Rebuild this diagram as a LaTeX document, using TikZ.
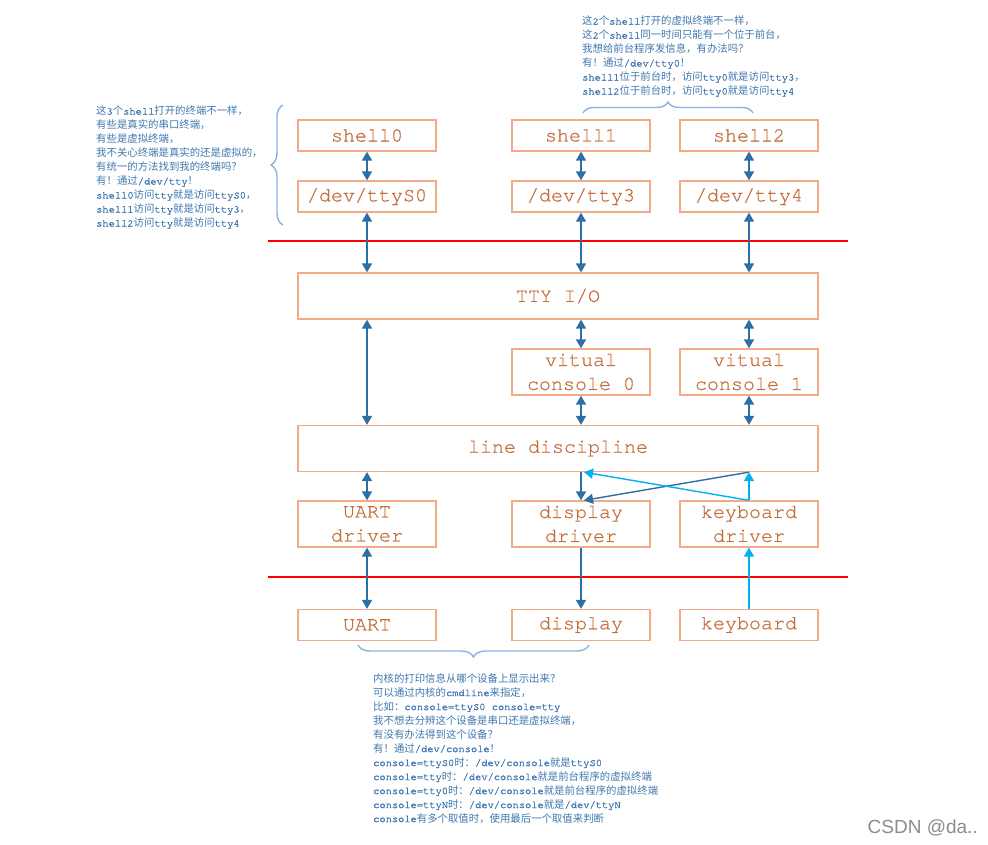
\documentclass[tikz,border=0pt]{standalone}
\usepackage{fontspec}
\usetikzlibrary{arrows.meta,decorations.pathreplacing,calc}
\newfontfamily\monofont[FakeBold=0.6]{TeX Gyre Cursor}
\newfontfamily\annmono[FakeBold=1.6]{TeX Gyre Cursor}
\newfontfamily\cjkfont{Noto Sans CJK SC}
\newfontfamily\wmfont{Liberation Sans}
\definecolor{boxc}{RGB}{244,170,135}
\definecolor{txtc}{RGB}{196,110,58}
\definecolor{annc}{RGB}{64,120,176}
\definecolor{bracec}{RGB}{140,180,226}
\definecolor{arrc}{RGB}{44,110,165}
\definecolor{lightarr}{RGB}{0,176,240}
\definecolor{wmc}{RGB}{140,140,140}
\makeatletter
\newXeTeXintercharclass\mycjkclass
\count@="4E00
\loop \XeTeXcharclass\count@=\mycjkclass \ifnum\count@<"9FFF \advance\count@ 1 \repeat
\count@="3000
\loop \XeTeXcharclass\count@=\mycjkclass \ifnum\count@<"303F \advance\count@ 1 \repeat
\count@="FF00
\loop \XeTeXcharclass\count@=\mycjkclass \ifnum\count@<"FFEF \advance\count@ 1 \repeat
\count@="20
\loop \XeTeXcharclass\count@=0 \ifnum\count@<"7E \advance\count@ 1 \repeat
\makeatother
\def\tolatin{}
\XeTeXinterchartoks 0 \mycjkclass = {\cjkfont}
\XeTeXinterchartoks 4095 \mycjkclass = {\cjkfont}
\XeTeXinterchartoks \mycjkclass 0 = {\tolatin}
\XeTeXinterchartoks 4095 0 = {\tolatin}
\XeTeXinterchartokenstate=1
\begin{document}
\begin{tikzpicture}[x=1pt,y=-1pt,
  box/.style={draw=boxc, line width=1.3pt, text=txtc, font={\fontsize{20}{24}\monofont},
    minimum width=138pt, minimum height=31pt, inner sep=0pt, align=center},
  tall/.style={box, minimum height=46pt},
  wide/.style={box, minimum width=520pt, minimum height=46pt},
  dbl/.style={arrc, line width=1.4pt, {Triangle[width=10pt,length=9pt]}-{Triangle[width=10pt,length=9pt]}},
  one/.style={arrc, line width=1.4pt, -{Triangle[width=10pt,length=9pt]}},
  lone/.style={lightarr, line width=1.4pt, -{Triangle[width=10pt,length=9pt]}},
  sepline/.style={red, line width=1.3pt},
  ann/.style={anchor=north west, align=left, inner sep=0pt, text=annc,
    font={\fontsize{10.4}{14}\annmono\def\tolatin{\annmono}}},
  brc/.style={bracec, line width=1.4pt, decorate, decoration={brace, amplitude=12pt}}
]
\fill[white] (0,0) rectangle (988,844);
\useasboundingbox (0,0) rectangle (988,844);

% boxes
\node[box] (sh0) at (367,135.5) {shell0};
\node[box] (sh1) at (581,135.5) {shell1};
\node[box] (sh2) at (749,135.5) {shell2};
\node[box] (t0) at (367,196.5) {/dev/ttyS0};
\node[box] (t3) at (581,196.5) {/dev/tty3};
\node[box] (t4) at (749,196.5) {/dev/tty4};
\node[wide] (io) at (558,296) {TTY I/O};
\node[tall] (vc0) at (581,372) {vitual\\console 0};
\node[tall] (vc1) at (749,372) {vitual\\console 1};
\node[wide] (ld) at (558,448.5) {line discipline};
\node[tall] (ud) at (367,524) {UART\\driver};
\node[tall] (dd) at (581,524) {display\\driver};
\node[tall] (kd) at (749,524) {keyboard\\driver};
\node[box] (ua) at (367,625) {UART};
\node[box] (di) at (581,625) {display};
\node[box] (kb) at (749,625) {keyboard};

% separators
\coordinate (r1a) at (268,241); \coordinate (r1b) at (848,241);
\coordinate (r2a) at (268,577); \coordinate (r2b) at (848,577);
\draw[sepline] (r1a) -- (r1b);
\draw[sepline] (r2a) -- (r2b);

% arrows
\draw[dbl] (sh0.south) -- (t0.north);
\draw[dbl] (sh1.south) -- (t3.north);
\draw[dbl] (sh2.south) -- (t4.north);
\draw[dbl] (t0.south) -- (io.north -| t0);
\draw[dbl] (t3.south) -- (io.north -| t3);
\draw[dbl] (t4.south) -- (io.north -| t4);
\draw[dbl] (io.south -| t0) -- (ld.north -| t0);
\draw[dbl] (io.south -| vc0) -- (vc0.north);
\draw[dbl] (io.south -| vc1) -- (vc1.north);
\draw[dbl] (vc0.south) -- (ld.north -| vc0);
\draw[dbl] (vc1.south) -- (ld.north -| vc1);
\draw[dbl] (ld.south -| ud) -- (ud.north);
\draw[dbl] (ud.south) -- (ua.north);
\draw[one] (ld.south -| dd) -- (dd.north);
\draw[one] (ld.south -| kd) -- ($(dd.north)+(3,0)$);
\draw[lone] (kd.north) -- (ld.south -| kd);
\draw[lone] (kd.north) -- ($(ld.south -| dd)+(3,0)$);
\draw[one] (dd.south) -- (di.north);
\draw[lone] (kb.north) -- (kd.south);

% braces
\coordinate (b1a) at (283,225); \coordinate (b1b) at (283,105);
\coordinate (b2a) at (583,113); \coordinate (b2b) at (753,113);
\coordinate (b3a) at (589,645); \coordinate (b3b) at (358,645);
\draw[brc] (b1a) -- (b1b);
\draw[brc, decoration={brace, amplitude=11pt}] (b2a) -- (b2b);
\draw[brc] (b3a) -- (b3b);

% annotations
\node[ann] (a1) at (96,105.5) {这3个shell打开的终端不一样，\\
有些是真实的串口终端，\\
有些是虚拟终端，\\
我不关心终端是真实的还是虚拟的，\\
有统一的方法找到我的终端吗？\\
有！通过/dev/tty！\\
shell0访问tty就是访问ttyS0，\\
shell1访问tty就是访问tty3，\\
shell2访问tty就是访问tty4};

\node[ann] (a2) at (582,15.5) {这2个shell打开的虚拟终端不一样，\\
这2个shell同一时间只能有一个位于前台，\\
我想给前台程序发信息，有办法吗？\\
有！通过/dev/tty0！\\
shell1位于前台时，访问tty0就是访问tty3，\\
shell2位于前台时，访问tty0就是访问tty4};

\node[ann] (a3) at (373,673) {内核的打印信息从哪个设备上显示出来？\\
可以通过内核的cmdline来指定，\\
比如：console=ttyS0 console=tty\\
我不想去分辨这个设备是串口还是虚拟终端，\\
有没有办法得到这个设备？\\
有！通过/dev/console！\\
console=ttyS0时：/dev/console就是ttyS0\\
console=tty时：/dev/console就是前台程序的虚拟终端\\
console=tty0时：/dev/console就是前台程序的虚拟终端\\
console=ttyN时：/dev/console就是/dev/ttyN\\
console有多个取值时，使用最后一个取值来判断};

\node[anchor=east, inner sep=0pt, text=wmc, font={\fontsize{19}{19}\wmfont}] (wm) at (978,828) {CSDN @da..};
\end{tikzpicture}
\end{document}
